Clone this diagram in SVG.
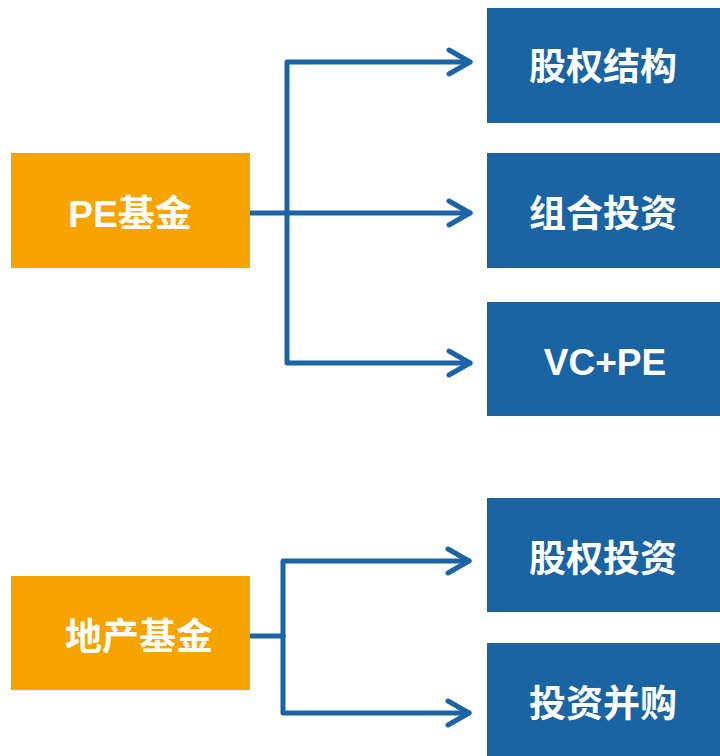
<svg xmlns="http://www.w3.org/2000/svg" width="720" height="756" viewBox="0 0 720 756">
<style>
.src{fill:#F7A300}
.dst{fill:#1A64A4}
.t{fill:#fff;font-family:"Liberation Sans","Noto Sans CJK SC",sans-serif;font-weight:bold;font-size:37px;text-anchor:middle}
.c{fill:none;stroke:#1B64A6;stroke-width:5;stroke-linecap:round;stroke-linejoin:round}
</style>
<defs>
<marker id="ah" viewBox="0 0 30 30" refX="24" refY="15" markerWidth="30" markerHeight="30" markerUnits="userSpaceOnUse" orient="auto">
<path d="M3 3 L24 15 L3 27" fill="none" stroke="#1B64A6" stroke-width="5" stroke-linecap="round" stroke-linejoin="round"/>
</marker>
</defs>
<rect width="720" height="756" fill="#fff"/>
<g id="connectors">
<path class="c" d="M250 213 H470" marker-end="url(#ah)"/>
<path class="c" d="M287 213 V62 H470" marker-end="url(#ah)"/>
<path class="c" d="M287 213 V363 H470" marker-end="url(#ah)"/>
<path class="c" d="M250 636 H283"/>
<path class="c" d="M283 636 V561 H469" marker-end="url(#ah)"/>
<path class="c" d="M283 636 V713 H469" marker-end="url(#ah)"/>
</g>
<g id="pe"><rect class="src" x="11" y="153" width="239" height="115"/><text class="t" x="130" y="227">PE基金</text></g>
<g id="estate"><rect class="src" x="11" y="576" width="239" height="114"/><text class="t" x="139" y="650">地产基金</text></g>
<g id="n1"><rect class="dst" x="487" y="8" width="233" height="115"/><text class="t" x="603" y="80">股权结构</text></g>
<g id="n2"><rect class="dst" x="487" y="153" width="233" height="115"/><text class="t" x="603" y="227">组合投资</text></g>
<g id="n3"><rect class="dst" x="487" y="302" width="233" height="114"/><text class="t" x="605" y="375">VC+PE</text></g>
<g id="n4"><rect class="dst" x="487" y="498" width="233" height="114"/><text class="t" x="603" y="572">股权投资</text></g>
<g id="n5"><rect class="dst" x="487" y="643" width="233" height="113"/><text class="t" x="603" y="717">投资并购</text></g>
</svg>
